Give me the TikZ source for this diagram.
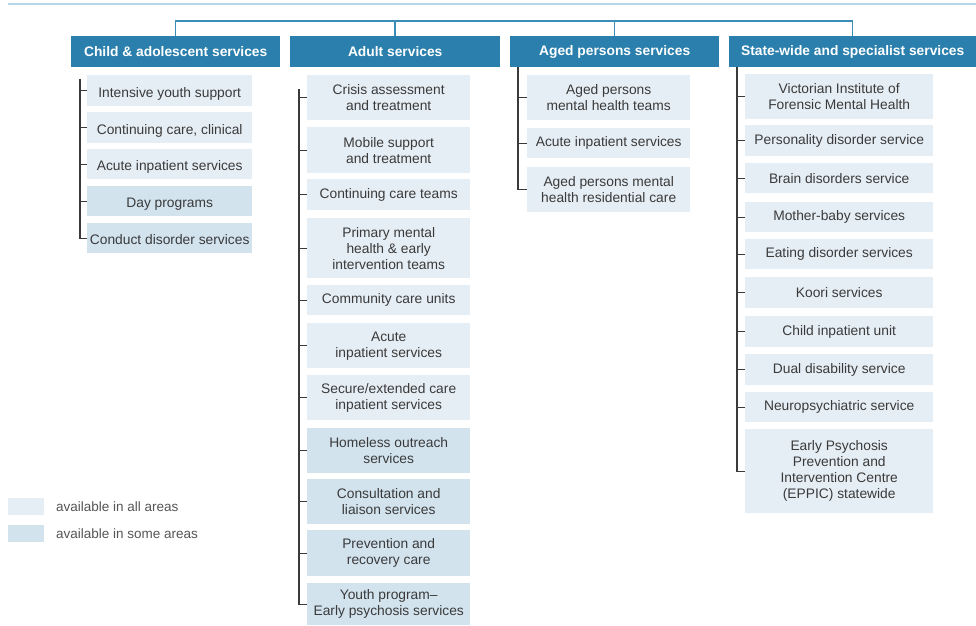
\documentclass[tikz,border=0pt]{standalone}
\usepackage{fontspec}
\setmainfont{Liberation Sans}
\begin{document}
\definecolor{headblue}{HTML}{2A7FAC}
\definecolor{linkblue}{HTML}{3C8CB8}
\definecolor{ruleblue}{HTML}{B4D6E6}
\definecolor{allfill}{HTML}{E6EEF5}
\definecolor{somefill}{HTML}{D2E3EE}
\definecolor{txt}{HTML}{3A3A3A}
\definecolor{legtxt}{HTML}{555555}
\begin{tikzpicture}[x=1pt,y=-1pt,
  head/.style={fill=headblue,text=white,anchor=north west,inner sep=0pt,
    minimum height=31pt,font=\fontsize{13.8}{16}\selectfont\bfseries},
  svcbase/.style={anchor=north west,inner sep=0pt,text=txt,
    font=\fontsize{13.8}{16}\selectfont},
  svc/.style={svcbase,align=center},
  allbox/.style={svc,fill=allfill},
  somebox/.style={svc,fill=somefill},
  % child column: single-line entries set a little low in their boxes
  kidall/.style={svcbase,fill=allfill,minimum width=165pt,text height=13pt,text depth=0pt},
  kidsome/.style={svcbase,fill=somefill,minimum width=165pt,text height=13pt,text depth=0pt},
  colB/.style={minimum width=163pt},
  colC/.style={minimum width=163pt},
  colD/.style={minimum width=188pt},
  link/.style={draw=linkblue,line width=1.5pt},
  brk/.style={draw=txt,line width=1.2pt},
  legend/.style={anchor=west,inner sep=0pt,text=legtxt,font=\fontsize{13.5}{16}\selectfont}]
\useasboundingbox[fill=white] (0,0) rectangle (976,625);

% top rule
\draw[draw=ruleblue,line width=2pt] (8,4) -- (976,4);

% column headers
\node[head,minimum width=209pt] (h1) at (71,36) {Child \& adolescent services};
\node[head,minimum width=210pt] (h2) at (290,36) {Adult services};
\node[head,minimum width=209pt] (h3) at (510,36) {Aged persons services};
\node[head,minimum width=247pt] (h4) at (729,36) {State-wide and specialist services};

% bus joining the headers
\coordinate (bus) at (0,21);
\draw[link] (h1.north) -- (h1.north |- bus) -| (h4.north);
\draw[link] (h2.north) -- (h2.north |- bus);
\draw[link] (h3.north) -- (h3.north |- bus);

% child and adolescent services
\node[kidall,minimum height=31pt] (c1) at (87,75) {Intensive youth support};
\node[kidall,minimum height=31pt] (c2) at (87,112) {Continuing care, clinical};
\node[kidall,minimum height=30pt] (c3) at (87,149) {Acute inpatient services};
\node[kidsome,minimum height=30pt] (c4) at (87,186) {Day programs};
\node[kidsome,minimum height=30pt] (c5) at (87,223) {Conduct disorder services};

% adult services
\node[allbox,colB,minimum height=45pt] (a1) at (307,75) {Crisis assessment\\and treatment};
\node[allbox,colB,minimum height=46pt] (a2) at (307,127) {Mobile support\\and treatment};
\node[allbox,colB,minimum height=31pt] (a3) at (307,179) {Continuing care teams};
\node[allbox,colB,minimum height=60pt] (a4) at (307,218) {Primary mental\\health \& early\\intervention teams};
\node[allbox,colB,minimum height=30pt] (a5) at (307,285) {Community care units};
\node[allbox,colB,minimum height=45pt] (a6) at (307,323) {Acute\\inpatient services};
\node[allbox,colB,minimum height=45pt] (a7) at (307,375) {Secure/extended care\\inpatient services};
\node[somebox,colB,minimum height=45pt] (a8) at (307,428) {Homeless outreach\\services};
\node[somebox,colB,minimum height=45pt] (a9) at (307,479) {Consultation and\\liaison services};
\node[somebox,colB,minimum height=46pt] (a10) at (307,530) {Prevention and\\recovery care};
\node[somebox,colB,minimum height=42pt] (a11) at (307,583) {Youth program–\\Early psychosis services};

% aged persons services
\node[allbox,colC,minimum height=45pt] (g1) at (527,75) {Aged persons\\mental health teams};
\node[allbox,colC,minimum height=30pt] (g2) at (527,128) {Acute inpatient services};
\node[allbox,colC,minimum height=45pt] (g3) at (527,167) {Aged persons mental\\health residential care};

% state-wide and specialist services
\node[allbox,colD,minimum height=45pt] (s1) at (745,74) {Victorian Institute of\\Forensic Mental Health};
\node[allbox,colD,minimum height=31pt] (s2) at (745,125) {Personality disorder service};
\node[allbox,colD,minimum height=30pt] (s3) at (745,163) {Brain disorders service};
\node[allbox,colD,minimum height=30pt] (s4) at (745,202) {Mother-baby services};
\node[allbox,colD,minimum height=30pt] (s5) at (745,239) {Eating disorder services};
\node[allbox,colD,minimum height=31pt] (s6) at (745,277) {Koori services};
\node[allbox,colD,minimum height=31pt] (s7) at (745,316) {Child inpatient unit};
\node[allbox,colD,minimum height=31pt] (s8) at (745,354) {Dual disability service};
\node[allbox,colD,minimum height=30pt] (s9) at (745,392) {Neuropsychiatric service};
\node[allbox,colD,minimum height=84pt] (s10) at (745,429) {Early Psychosis\\Prevention and\\Intervention Centre\\(EPPIC) statewide};

% brackets down each column
\coordinate (cb) at (80,79);
\draw[brk] (cb) |- (c5.west);
\foreach \n in {c1,c2,c3,c4} \draw[brk] (\n.west) -- (\n.west -| cb);

\coordinate (ab) at (299,89);
\draw[brk] (ab) |- (a11.west);
\foreach \n in {a1,a2,a3,a4,a5,a6,a7,a8,a9,a10} \draw[brk] (\n.west) -- (\n.west -| ab);

\coordinate (gb) at (518,67);
\draw[brk] (gb) |- (g3.west);
\foreach \n in {g1,g2} \draw[brk] (\n.west) -- (\n.west -| gb);

\coordinate (sb) at (737,67);
\draw[brk] (sb) |- (s10.west);
\foreach \n in {s1,s2,s3,s4,s5,s6,s7,s8,s9} \draw[brk] (\n.west) -- (\n.west -| sb);

% legend
\node[anchor=north west,fill=allfill,minimum width=36pt,minimum height=17pt,inner sep=0pt] (k1) at (8,498) {};
\node[anchor=north west,fill=somefill,minimum width=36pt,minimum height=17pt,inner sep=0pt] (k2) at (8,525) {};
\node[legend] (l1) at (56,506.5) {available in all areas};
\node[legend] (l2) at (56,533.5) {available in some areas};
\end{tikzpicture}
\end{document}
